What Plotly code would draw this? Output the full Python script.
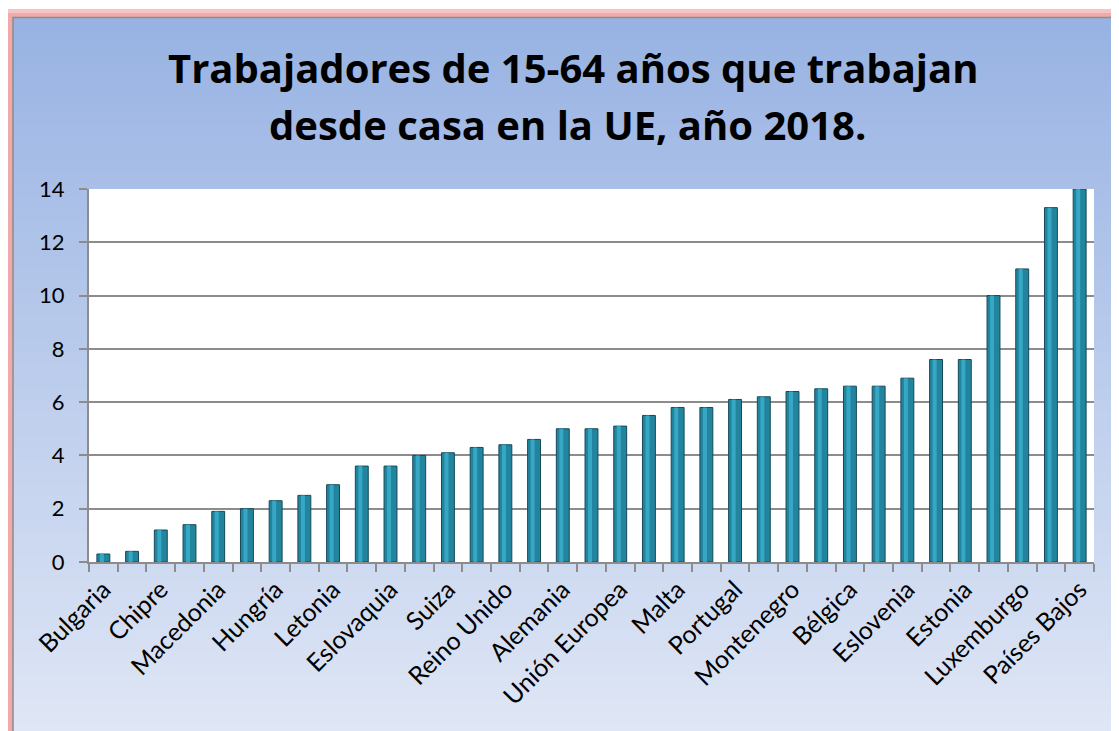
import plotly.graph_objects as go

countries = ["Bulgaria", "Rumanía", "Chipre", "Grecia", "Macedonia", "Lituania",
             "Hungría", "Croacia", "Letonia", "Polonia", "Eslovaquia", "Italia",
             "Suiza", "Turquía", "Reino Unido", "España", "Alemania", "República Checa",
             "Unión Europea", "Serbia", "Malta", "Noruega", "Portugal", "Suecia",
             "Montenegro", "Irlanda", "Bélgica", "Austria", "Eslovenia", "Islandia",
             "Estonia", "Francia", "Luxemburgo", "Finlandia", "Países Bajos"]
values = [0.3, 0.4, 1.2, 1.4, 1.9, 2.0, 2.3, 2.5, 2.9, 3.6, 3.6, 4.0,
          4.1, 4.3, 4.4, 4.6, 5.0, 5.0, 5.1, 5.5, 5.8, 5.8, 6.1, 6.2,
          6.4, 6.5, 6.6, 6.6, 6.9, 7.6, 7.6, 10.0, 11.0, 13.3, 14.0]
y_ticks = [0, 2, 4, 6, 8, 10, 12, 14]
title_lines = ["Trabajadores de 15-64 años que trabajan", "desde casa en la UE, año 2018."]

OFF = 8  # page body margin
W, H = 1119 - OFF, 731 - OFF
ML, MR, MT, MB = 89 - OFF, 25, 189 - OFF, 169
PW, PH = W - ML - MR, H - MT - MB

def px_x(p):
    return (p - OFF - ML) / PW

def px_y(p):
    return (H - MB - (p - OFF)) / PH

idx = list(range(len(countries)))
label_idx = idx[::2]

fig = go.Figure()
fig.add_trace(go.Bar(x=idx, y=values, width=0.45,
                     marker=dict(color="#23849E", line=dict(color="#15495A", width=1)),
                     hoverinfo="skip"))
fig.add_trace(go.Bar(x=idx, y=values, width=0.14, offset=-0.12,
                     marker=dict(color="#3AAECB", line=dict(width=0)),
                     opacity=0.85, hoverinfo="skip"))

shapes = []
shapes.append(dict(type="rect", xref="paper", yref="paper", layer="below",
                   x0=px_x(4), x1=px_x(1135), y0=px_y(745), y1=px_y(9),
                   fillcolor="#F6C4C4", line=dict(width=0)))
shapes.append(dict(type="rect", xref="paper", yref="paper", layer="below",
                   x0=px_x(8), x1=px_x(1135), y0=px_y(745), y1=px_y(13),
                   fillcolor="#F1A9A9", line=dict(width=0)))
n = 60
top = (152, 179, 227)
bot = (223, 230, 245)
y_start, y_end = 18, 735
for i in range(n):
    t = i / (n - 1)
    c = tuple(int(round(top[k] + (bot[k] - top[k]) * t)) for k in range(3))
    ya = y_start + (y_end - y_start) * i / n
    yb = y_start + (y_end - y_start) * (i + 1) / n + 1
    shapes.append(dict(type="rect", xref="paper", yref="paper", layer="below",
                       x0=px_x(13), x1=px_x(1135), y0=px_y(yb), y1=px_y(ya),
                       fillcolor="rgb(%d,%d,%d)" % c, line=dict(width=0)))
shapes.append(dict(type="rect", xref="paper", yref="paper", layer="below",
                   x0=px_x(13), x1=px_x(1140), y0=px_y(745), y1=px_y(17.5),
                   fillcolor="rgba(0,0,0,0)", line=dict(color="#8C8C8C", width=1.5)))
shapes.append(dict(type="rect", xref="paper", yref="paper", layer="below",
                   x0=0, x1=1, y0=0, y1=1, fillcolor="white", line=dict(width=0)))

title_pos = [(573, 67), (567, 124)]
annotations = []
for txt, (cx, cy) in zip(title_lines, title_pos):
    annotations.append(dict(text="<b>" + txt + "</b>", xref="paper", yref="paper",
                            x=px_x(cx), y=px_y(cy), xanchor="center", yanchor="middle",
                            showarrow=False,
                            font=dict(family="Open Sans", size=40, color="black")))

fig.update_layout(
    width=W, height=H,
    margin=dict(l=ML, r=MR, t=MT, b=MB, autoexpand=False),
    paper_bgcolor="white",
    plot_bgcolor="rgba(0,0,0,0)",
    showlegend=False,
    barmode="overlay",
    shapes=shapes,
    annotations=annotations,
    font=dict(family="Lato", color="black"),
)
fig.update_xaxes(range=[-0.5, len(countries) - 0.5],
                 tickmode="array", tickvals=label_idx,
                 ticktext=[countries[i] for i in label_idx],
                 tickangle=-45, ticks="", tickfont=dict(size=25, color="black"),
                 ticklabelstandoff=1,
                 showline=True, linecolor="#8C8C8C", linewidth=2,
                 showgrid=False, zeroline=False,
                 minor=dict(tickmode="array", tickvals=[i - 0.5 for i in range(len(countries) + 1)],
                            ticks="outside", ticklen=8, tickcolor="#8C8C8C", tickwidth=2,
                            showgrid=False))
fig.update_yaxes(range=[0, 14], tickmode="array", tickvals=y_ticks,
                 tickfont=dict(size=22, color="black"),
                 ticks="outside", ticklen=8, tickcolor="#8C8C8C", tickwidth=2,
                 ticklabelstandoff=10,
                 showline=True, linecolor="#8C8C8C", linewidth=2,
                 showgrid=True, gridcolor="#8C8C8C", gridwidth=2, zeroline=False)

fig.write_html("out.html")
